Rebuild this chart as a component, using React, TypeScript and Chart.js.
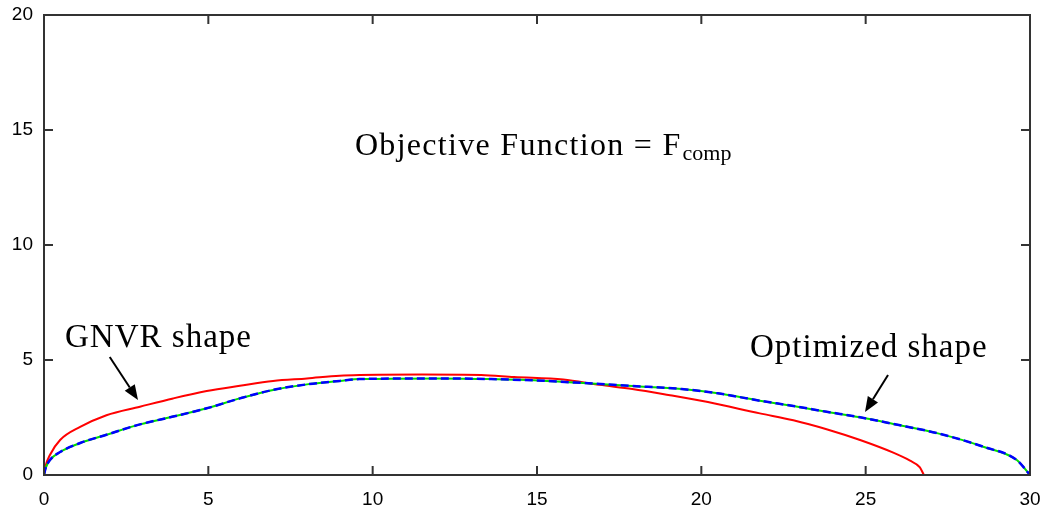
import React, { useEffect, useRef } from "react";
import { Chart, registerables } from "chart.js";

Chart.register(...registerables);

// GNVR shape (red)
const gnvrX = [0, 0.05, 0.18, 0.49, 1.1, 1.9, 2.92, 3.93, 4.95, 5.96, 6.97, 8.0, 9.0, 9.6, 11.5, 13.3, 14.3, 15.8, 16.9, 17.9, 19.0, 20.2, 21.78, 22.8, 23.81, 24.83, 25.84, 26.35, 26.65, 26.77];
const gnvrY = [0, 0.4, 0.87, 1.52, 2.09, 2.6, 2.97, 3.33, 3.65, 3.88, 4.09, 4.2, 4.32, 4.35, 4.37, 4.35, 4.26, 4.15, 3.92, 3.74, 3.48, 3.17, 2.68, 2.38, 1.99, 1.52, 0.97, 0.62, 0.33, 0];

// Optimized shape (blue dashed over green)
const optX = [0, 0.05, 0.18, 0.49, 1.1, 1.9, 2.92, 3.93, 4.95, 5.96, 6.97, 8.0, 9.0, 9.6, 12, 13.6, 15.3, 16.4, 17.9, 19.4, 20.5, 21.78, 22.8, 23.81, 24.83, 25.84, 27.2, 28.6, 29.6, 30];
const optY = [0, 0.3, 0.65, 1.0, 1.39, 1.75, 2.2, 2.54, 2.9, 3.33, 3.7, 3.94, 4.09, 4.17, 4.2, 4.17, 4.09, 4.0, 3.87, 3.74, 3.55, 3.23, 3.0, 2.75, 2.51, 2.22, 1.81, 1.22, 0.65, 0];

const xTicks = [0, 5, 10, 15, 20, 25, 30];
const yTicks = [0, 5, 10, 15, 20];

const titleMain = "Objective Function = F";
const titleSub = "comp";
const labelGnvr = "GNVR shape";
const labelOpt = "Optimized shape";

const toPoints = (xs: number[], ys: number[]) => xs.map((x, i) => ({ x, y: ys[i] }));

const framePlugin = {
  id: "frameAndNotes",
  afterDatasetsDraw(chart: any) {
    const { ctx, chartArea, scales } = chart;
    const xs = scales.x;
    const ys = scales.y;
    const { left, right, top, bottom } = chartArea;
    ctx.save();
    // frame
    ctx.strokeStyle = "#333333";
    ctx.lineWidth = 2;
    ctx.strokeRect(left, top, right - left, bottom - top);
    // inward ticks
    const tl = 9;
    ctx.beginPath();
    xTicks.forEach((v) => {
      const px = xs.getPixelForValue(v);
      ctx.moveTo(px, bottom);
      ctx.lineTo(px, bottom - tl);
      ctx.moveTo(px, top);
      ctx.lineTo(px, top + tl);
    });
    yTicks.forEach((v) => {
      const py = ys.getPixelForValue(v);
      ctx.moveTo(left, py);
      ctx.lineTo(left + tl, py);
      ctx.moveTo(right, py);
      ctx.lineTo(right - tl, py);
    });
    ctx.stroke();

    // annotations
    ctx.fillStyle = "#000000";
    ctx.textBaseline = "alphabetic";
    ctx.textAlign = "left";
    const X = (v: number) => xs.getPixelForValue(v);
    const Y = (v: number) => ys.getPixelForValue(v);

    ctx.font = "33px 'Liberation Serif', 'Times New Roman', serif";
    (ctx as any).letterSpacing = "1px";
    ctx.fillText(labelGnvr, X(0.64), Y(5.57));
    ctx.fillText(labelOpt, X(21.48), Y(5.13));

    ctx.font = "32px 'Liberation Serif', 'Times New Roman', serif";
    (ctx as any).letterSpacing = "1.3px";
    const tx = X(9.46);
    const ty = Y(13.9);
    ctx.fillText(titleMain, tx, ty);
    const w = ctx.measureText(titleMain).width;
    ctx.font = "22px 'Liberation Serif', 'Times New Roman', serif";
    (ctx as any).letterSpacing = "0px";
    ctx.fillText(titleSub, tx + w + 1, ty + 5);

    const arrow = (x1: number, y1: number, x2: number, y2: number) => {
      const ang = Math.atan2(y2 - y1, x2 - x1);
      const hl = 15;
      const hw = 6;
      const bx = x2 - hl * Math.cos(ang);
      const by = y2 - hl * Math.sin(ang);
      ctx.strokeStyle = "#000000";
      ctx.lineWidth = 2;
      ctx.beginPath();
      ctx.moveTo(x1, y1);
      ctx.lineTo(bx, by);
      ctx.stroke();
      ctx.beginPath();
      ctx.moveTo(x2, y2);
      ctx.lineTo(bx + hw * Math.sin(ang), by - hw * Math.cos(ang));
      ctx.lineTo(bx - hw * Math.sin(ang), by + hw * Math.cos(ang));
      ctx.closePath();
      ctx.fill();
    };
    arrow(X(2.0), Y(5.13), X(2.86), Y(3.26));
    arrow(X(25.68), Y(4.35), X(24.98), Y(2.74));
    ctx.restore();
  },
};

export default function App() {
  const ref = useRef<HTMLCanvasElement | null>(null);
  useEffect(() => {
    if (!ref.current) return;
    const chart = new Chart(ref.current, {
      type: "line",
      data: {
        datasets: [
          {
            label: "Optimized (blue)",
            data: toPoints(optX, optY),
            borderColor: "#0000ff",
            borderWidth: 2.5,
            borderDash: [8, 4],
            pointRadius: 0,
            fill: false,
            cubicInterpolationMode: "monotone",
          },
          {
            label: "Optimized (green)",
            data: toPoints(optX, optY),
            borderColor: "#00dd00",
            borderWidth: 2,
            pointRadius: 0,
            fill: false,
            cubicInterpolationMode: "monotone",
          },
          {
            label: "GNVR",
            data: toPoints(gnvrX, gnvrY),
            borderColor: "#ff0000",
            borderWidth: 2,
            pointRadius: 0,
            fill: false,
            cubicInterpolationMode: "monotone",
          },
        ],
      },
      options: {
        responsive: false,
        animation: false,
        events: [],
        layout: { padding: { left: 0, right: 13, top: 15, bottom: 0 } },
        plugins: { legend: { display: false }, tooltip: { enabled: false } },
        scales: {
          x: {
            type: "linear",
            min: 0,
            max: 30,
            afterFit: (s: any) => {
              s.height = 33;
              s.paddingLeft = 0;
              s.paddingRight = 0;
            },
            afterBuildTicks: (s: any) => {
              s.ticks = xTicks.map((v) => ({ value: v }));
            },
            grid: { display: false, drawTicks: false },
            border: { display: false },
            ticks: {
              padding: 13,
              color: "#000000",
              font: { family: "'Liberation Sans', Arial, sans-serif", size: 19 },
              autoSkip: false,
              maxRotation: 0,
            },
          },
          y: {
            type: "linear",
            min: 0,
            max: 20,
            afterFit: (s: any) => {
              s.width = 44;
              s.paddingTop = 0;
              s.paddingBottom = 0;
            },
            afterBuildTicks: (s: any) => {
              s.ticks = yTicks.map((v) => ({ value: v }));
            },
            grid: { display: false, drawTicks: false },
            border: { display: false },
            ticks: {
              padding: 11,
              color: "#000000",
              font: { family: "'Liberation Sans', Arial, sans-serif", size: 19 },
              autoSkip: false,
            },
          },
        },
      },
      plugins: [framePlugin],
    } as any);
    return () => chart.destroy();
  }, []);
  return (
    <div style={{ position: "fixed", left: 0, top: 0, width: 1043, height: 508, background: "#ffffff" }}>
      <canvas ref={ref} width={1043} height={508} style={{ display: "block" }} />
    </div>
  );
}
